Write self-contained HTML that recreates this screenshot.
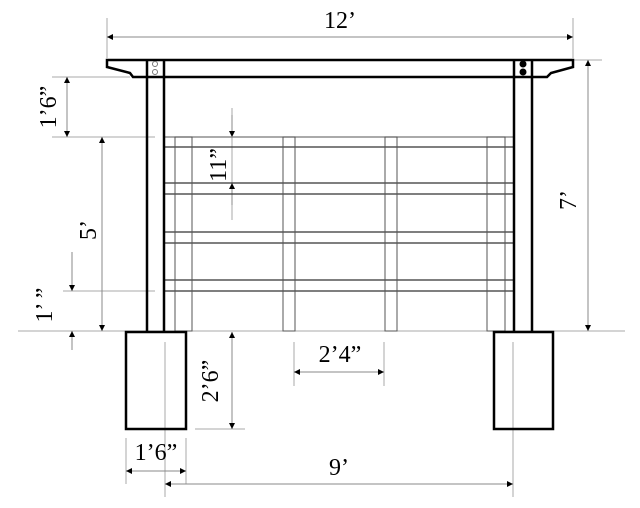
<!DOCTYPE html>
<html><head><style>body{margin:0;background:#fff}svg{display:block}text{font-family:"Liberation Serif",serif;font-size:24px;fill:#000}</style></head><body>
<svg width="640" height="508" viewBox="0 0 640 508" xmlns="http://www.w3.org/2000/svg">
<defs><marker id="a" viewBox="0 0 10 10" refX="10" refY="5" markerWidth="12" markerHeight="6" markerUnits="userSpaceOnUse" orient="auto-start-reverse"><path d="M0,0L10,5L0,10z" fill="#000"/></marker></defs>
<g stroke="#aaa" stroke-width="1" fill="none">
<line x1="18" y1="331" x2="625" y2="331"/>
<line x1="107" y1="18" x2="107" y2="58"/><line x1="573" y1="18" x2="573" y2="58"/>
<line x1="560" y1="60" x2="602" y2="60"/>
<line x1="52" y1="77" x2="130" y2="77"/><line x1="52" y1="137" x2="155" y2="137"/>
<line x1="63" y1="291" x2="155" y2="291"/>
<line x1="232" y1="108" x2="232" y2="220"/>
<line x1="195" y1="429" x2="245" y2="429"/>
<line x1="294" y1="342" x2="294" y2="386"/><line x1="384" y1="342" x2="384" y2="386"/>
<line x1="126" y1="438" x2="126" y2="484"/><line x1="186" y1="438" x2="186" y2="484"/>
<line x1="165" y1="342" x2="165" y2="497"/><line x1="513" y1="342" x2="513" y2="497"/>
</g>
<g stroke="#888" stroke-width="1" fill="none">
<line x1="107" y1="37" x2="573" y2="37" marker-start="url(#a)" marker-end="url(#a)"/>
<line x1="588" y1="60" x2="588" y2="331" marker-start="url(#a)" marker-end="url(#a)"/>
<line x1="67" y1="77" x2="67" y2="137" marker-start="url(#a)" marker-end="url(#a)"/>
<line x1="102" y1="137" x2="102" y2="331" marker-start="url(#a)" marker-end="url(#a)"/>
<line x1="72" y1="252" x2="72" y2="291" marker-end="url(#a)"/>
<line x1="72" y1="350" x2="72" y2="331" marker-end="url(#a)"/>
<line x1="232" y1="115" x2="232" y2="137" marker-end="url(#a)"/>
<line x1="232" y1="205" x2="232" y2="183" marker-end="url(#a)"/>
<line x1="232" y1="332" x2="232" y2="429" marker-start="url(#a)" marker-end="url(#a)"/>
<line x1="294" y1="372" x2="384" y2="372" marker-start="url(#a)" marker-end="url(#a)"/>
<line x1="126" y1="471" x2="186" y2="471" marker-start="url(#a)" marker-end="url(#a)"/>
<line x1="165" y1="484" x2="513" y2="484" marker-start="url(#a)" marker-end="url(#a)"/>
</g>
<g stroke="#333" stroke-width="1.3" fill="none">
<line x1="164" y1="137" x2="513" y2="137" stroke="#777"/>
<line x1="164" y1="147" x2="513" y2="147"/>
<line x1="164" y1="183" x2="513" y2="183"/><line x1="164" y1="194" x2="513" y2="194"/>
<line x1="164" y1="232" x2="513" y2="232"/><line x1="164" y1="243" x2="513" y2="243"/>
<line x1="164" y1="280" x2="513" y2="280"/><line x1="164" y1="291" x2="513" y2="291"/>
</g>
<g stroke="#555" stroke-width="1" fill="none">
<rect x="175" y="137" width="17" height="194"/>
<rect x="283" y="137" width="12" height="194"/>
<rect x="385" y="137" width="12" height="194"/>
<rect x="487" y="137" width="18" height="194"/>
</g>
<g stroke="#000" stroke-width="2.5" fill="none">
<path d="M107,60 L573,60 L573,67 L551,73 L547,77 L133,77 L130,73 L107,67 Z" fill="#fff"/>
<line x1="147" y1="60" x2="147" y2="331"/><line x1="164" y1="60" x2="164" y2="331"/>
<line x1="514" y1="60" x2="514" y2="331"/><line x1="532" y1="60" x2="532" y2="331"/>
<rect x="126" y="332" width="60" height="97"/>
<rect x="494" y="332" width="59" height="97"/>
</g>
<circle cx="155" cy="64" r="2.5" fill="none" stroke="#777"/><circle cx="155" cy="72" r="2.5" fill="none" stroke="#777"/>
<circle cx="523" cy="64" r="3.5"/><circle cx="523" cy="72" r="3.5"/>
<text x="340" y="28" text-anchor="middle">12’</text>
<text x="340" y="362" text-anchor="middle">2’4”</text>
<text x="156" y="460" text-anchor="middle">1’6”</text>
<text x="339" y="475" text-anchor="middle">9’</text>
<text transform="translate(576,200) rotate(-90)" text-anchor="middle">7’</text>
<text transform="translate(56,107) rotate(-90)" text-anchor="middle">1’6”</text>
<text transform="translate(96,230) rotate(-90)" text-anchor="middle">5’</text>
<text transform="translate(52,305) rotate(-90)" text-anchor="middle">1’ ”</text>
<text transform="translate(226,165) rotate(-90)" text-anchor="middle">11”</text>
<text transform="translate(218,381) rotate(-90)" text-anchor="middle">2’6”</text>
</svg>
</body></html>
